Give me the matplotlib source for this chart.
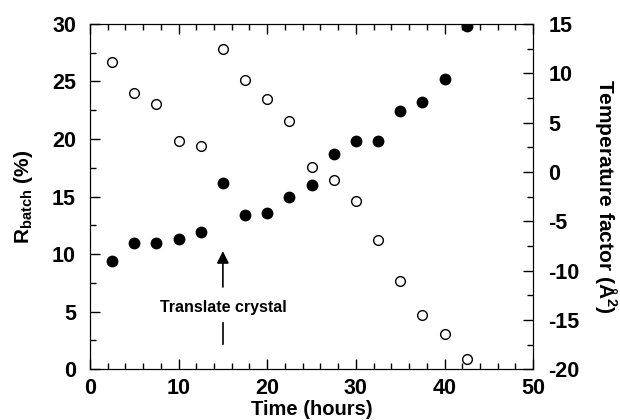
import matplotlib
matplotlib.use("Agg")
import matplotlib.pyplot as plt
from matplotlib.ticker import MultipleLocator

plt.rcParams['font.family'] = ['Liberation Sans', 'DejaVu Sans']
plt.rcParams['mathtext.fontset'] = 'custom'
plt.rcParams['mathtext.rm'] = 'Liberation Sans:bold'
plt.rcParams['mathtext.it'] = 'Liberation Sans:bold'
plt.rcParams['mathtext.bf'] = 'Liberation Sans:bold'
plt.rcParams['axes.unicode_minus'] = False

time_h = [2.5, 5.0, 7.5, 10.0, 12.5, 15.0, 17.5, 20.0, 22.5, 25.0, 27.5, 30.0, 32.5, 35.0, 37.5, 40.0, 42.5]
r_batch = [9.4, 11.0, 11.0, 11.3, 11.9, 16.2, 13.4, 13.6, 15.0, 16.0, 18.7, 19.8, 19.8, 22.4, 23.2, 25.2, 29.8]
temp_factor = [11.1, 8.0, 6.9, 3.1, 2.6, 12.5, 9.3, 7.4, 5.2, 0.5, -0.8, -3.0, -6.9, -11.1, -14.5, -16.4, -19.0]

fig = plt.figure(figsize=(6.2, 4.2), dpi=100)
ax = fig.add_axes([0.145, 0.121, 0.715, 0.822])
ax2 = ax.twinx()

ax.plot(time_h, r_batch, 'o', color='black', markersize=7.5, zorder=3)
ax2.plot(time_h, temp_factor, 'o', markerfacecolor='white', markeredgecolor='black',
         markeredgewidth=1.0, markersize=7.0, zorder=3)

ax.set_xlim(0, 50)
ax.set_ylim(0, 30)
ax2.set_ylim(-20, 15)

ax.xaxis.set_major_locator(MultipleLocator(10))
ax.xaxis.set_minor_locator(MultipleLocator(2))
ax.yaxis.set_major_locator(MultipleLocator(5))
ax.yaxis.set_minor_locator(MultipleLocator(2.5))
ax2.yaxis.set_major_locator(MultipleLocator(5))
ax2.yaxis.set_minor_locator(MultipleLocator(2.5))

ax.tick_params(axis='both', which='both', direction='in', top=True, labelsize=15.5)
ax.tick_params(axis='y', which='major', pad=10)
ax.tick_params(axis='x', which='major', pad=6)
ax.tick_params(which='major', length=7, width=1)
ax.tick_params(which='minor', length=4, width=1)
ax2.tick_params(axis='y', which='both', direction='in', labelsize=15.5)
ax2.tick_params(which='major', length=7, width=1, pad=11)
ax2.tick_params(which='minor', length=4, width=1)
for lab in ax.get_xticklabels() + ax.get_yticklabels() + ax2.get_yticklabels():
    lab.set_fontweight('bold')

ax.set_xlabel('Time (hours)', fontsize=14.5, fontweight='bold', labelpad=1)
ax.set_ylabel(r'R$_{\mathrm{batch}}$ (%)', fontsize=15, fontweight='bold', labelpad=12)
ax2.set_ylabel(r'Temperature factor (Å$^{2}$)', fontsize=15, fontweight='bold',
               rotation=270, labelpad=28)

ax.annotate('', xy=(15, 10.5), xytext=(15, 6.9),
            arrowprops=dict(arrowstyle='-|>', color='black', lw=1.2, mutation_scale=18))
ax.text(15, 5.4, 'Translate crystal', ha='center', va='center', fontsize=11.5,
        fontweight='bold')
ax.plot([15, 15], [4.0, 2.2], color='black', lw=1.2)

fig.savefig('out.png', dpi=100)
